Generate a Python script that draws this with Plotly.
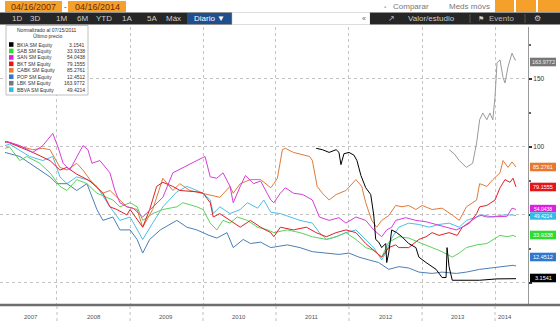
import plotly.graph_objects as go
import datetime as _dt

# ---------------- DATA ----------------
BKIA_dates = ["2011-07-21","2011-08-21","2011-09-24","2011-10-29","2011-11-12","2011-11-22","2011-12-07",
              "2012-01-01","2012-01-26","2012-02-10","2012-03-01","2012-03-25","2012-04-19","2012-05-04",
              "2012-05-14","2012-05-29","2012-06-13","2012-07-03","2012-07-08","2012-07-18","2012-08-02",
              "2012-08-27","2012-09-22","2012-10-26","2012-12-01","2012-12-16","2013-01-21","2013-03-12",
              "2013-04-11","2013-05-01","2013-05-06","2013-05-16","2013-06-01","2013-10-16","2014-01-11","2014-04-16"]
BKIA_values = [99,98,96,98,96,87,95,96,94,90,79,70,65,50,32,30,26,29,15,22,39,37,34,29,26,19,15,10,4,4,26,12,2,2,3,3.15]

SAB_dates = ["2007-04-16","2007-05-09","2007-06-29","2007-08-03","2007-10-07","2007-11-27","2008-01-16","2008-02-20",
             "2008-04-09","2008-05-30","2008-07-19","2008-09-07","2008-10-07","2008-11-11","2009-01-01","2009-02-05",
             "2009-03-05","2009-04-24","2009-06-14","2009-08-23","2009-09-22","2009-12-01","2010-01-01","2010-02-06",
             "2010-03-11","2010-04-11","2010-05-16","2010-06-21","2010-08-11","2010-10-01","2010-11-21","2010-12-21",
             "2011-02-27","2011-05-01","2011-07-02","2011-09-10","2011-10-29","2011-12-17","2012-02-05","2012-03-25",
             "2012-05-04","2012-06-13","2012-07-18","2012-09-07","2012-10-26","2013-01-01","2013-02-20","2013-04-11",
             "2013-06-01","2013-07-06","2013-08-11","2013-10-01","2013-11-21","2013-12-21","2014-01-26","2014-03-02",
             "2014-04-01","2014-04-16"]
SAB_values = [99,100,90,93,88,81,71,68,76,73,66,63,61,56,59,56,46,51,54,56,59,56,54,44,39,46,44,48.5,46,41,39,37,
              39,37,34,32,34,37,32,26,24,19,30,34,33,29,26,23,19,22,26,28,29,32,35,34,35,33.93]

SAN_dates = ["2007-04-16","2007-04-25","2007-06-29","2007-09-02","2007-10-22","2007-12-11","2008-01-06","2008-02-01",
             "2008-03-05","2008-04-09","2008-05-10","2008-06-04","2008-06-24","2008-08-03","2008-09-22","2008-10-17",
             "2008-11-11","2008-12-16","2009-01-16","2009-03-05","2009-06-14","2009-08-03","2009-09-22","2009-12-01",
             "2010-01-11","2010-02-06","2010-03-11","2010-04-11","2010-05-16","2010-06-01","2010-07-06","2010-08-01",
             "2010-09-11","2010-10-16","2010-11-21","2010-12-06","2010-12-21","2011-01-23","2011-02-17","2011-03-29",
             "2011-05-15","2011-07-02","2011-08-06","2011-09-24","2011-11-12","2011-12-17","2012-02-05","2012-03-25",
             "2012-05-04","2012-06-13","2012-07-08","2012-08-02","2012-08-22","2012-10-11","2012-12-01","2013-01-21",
             "2013-03-12","2013-05-01","2013-06-21","2013-07-21","2013-08-26","2013-10-16","2013-11-21","2014-01-11",
             "2014-03-02","2014-03-27","2014-04-16"]
SAN_values = [103,104,101,96,101,110,100,88,83,93,101,98,88,90,81,68,59,56,55,48.5,63,81,85,90,93,78,77,81,71,59,71,79,
              73,75,65,61,59,66,70,66,65,61,48.5,46,48,44,48.5,46,39,34,39,41,46,48,46,45,43,41,39,41,45,50,48.5,49,
              49,55,54.04]

BKT_dates = ["2007-04-16","2007-05-09","2007-09-02","2007-11-27","2008-01-16","2008-02-20","2008-04-09","2008-06-14",
             "2008-08-18","2008-09-22","2008-10-27","2008-12-16","2009-01-01","2009-03-05","2009-04-09","2009-05-14",
             "2009-06-14","2009-08-03","2009-09-07","2009-12-01","2010-01-01","2010-02-06","2010-02-21","2010-03-26",
             "2010-05-16","2010-07-06","2010-08-26","2010-10-16","2010-12-06","2010-12-21","2011-01-23","2011-03-29",
             "2011-06-02","2011-07-21","2011-09-10","2011-10-29","2011-12-17","2012-02-05","2012-03-25","2012-05-04",
             "2012-06-13","2012-07-18","2012-08-22","2012-09-07","2012-10-26","2012-12-16","2013-01-21","2013-02-20",
             "2013-03-27","2013-05-16","2013-06-26","2013-07-21","2013-08-26","2013-10-01","2013-10-16","2013-11-21",
             "2014-01-01","2014-01-26","2014-02-20","2014-03-17","2014-04-01","2014-04-16"]
BKT_values = [104,103,96,90,83,85,80,75,66,56,54,50,54,41,54,71,74,71,68,67,66,59,48.5,51,46,41,46,41,37,34,41,39,
              41,37,34,37,39,37,29,24,19,26,28,26,26,32,34,37,35,37,35,41,44,51,56,57,61,70,76,74,77,70.6]

CABK_dates = ["2007-04-16","2007-04-25","2007-07-13","2007-09-02","2007-10-22","2007-11-27","2008-01-16","2008-02-20",
              "2008-04-09","2008-05-10","2008-06-14","2008-07-19","2008-08-18","2008-09-22","2008-10-27","2008-12-16",
              "2009-02-05","2009-03-05","2009-04-24","2009-06-14","2009-08-03","2009-09-07","2009-10-27","2010-01-01",
              "2010-03-26","2010-05-16","2010-06-01","2010-07-06","2010-08-26","2010-10-16","2010-12-06","2010-12-21",
              "2011-01-08","2011-02-02","2011-02-17","2011-03-29","2011-05-15","2011-06-18","2011-07-02","2011-07-26",
              "2011-08-21","2011-09-24","2011-10-29","2011-12-17","2012-02-05","2012-03-05","2012-03-25","2012-04-24",
              "2012-05-19","2012-06-13","2012-07-18","2012-08-22","2012-09-22","2012-10-26","2012-12-01","2013-01-01",
              "2013-02-20","2013-04-11","2013-06-01","2013-07-06","2013-08-11","2013-10-01","2013-10-16","2013-11-21",
              "2013-12-21","2014-01-26","2014-02-10","2014-03-07","2014-03-27","2014-04-16"]
CABK_values = [103,104,100,98,99,98,85,83,88,83,76,71,66,68,63,56,54,41,54,77,68,73,68,66,63,71,66,73,76,76,70,73,
               77,98,99,96,94,93,90,71,66,61,65,68,76,71,59,46,41,46,49.5,57,56,57,54,57,54,55,50,46,56,61,73,71,
               76,81,90,85,89,85.28]

POP_dates = ["2007-04-16","2007-06-29","2007-08-18","2007-10-07","2007-11-27","2008-01-01","2008-02-20","2008-04-09",
             "2008-05-30","2008-07-19","2008-08-18","2008-10-07","2008-11-11","2009-01-01","2009-02-05","2009-03-05",
             "2009-04-09","2009-06-01","2009-08-23","2009-10-12","2009-12-01","2010-01-31","2010-03-11","2010-05-01",
             "2010-06-01","2010-07-21","2010-08-26","2010-10-16","2010-12-06","2011-02-27","2011-05-01","2011-07-02",
             "2011-09-10","2011-11-12","2012-01-01","2012-02-20","2012-04-09","2012-05-29","2012-07-18","2012-09-07",
             "2012-10-26","2012-12-16","2013-02-20","2013-04-11","2013-06-21","2013-08-11","2013-10-16","2013-12-21",
             "2014-02-10","2014-04-01","2014-04-16"]
POP_values = [96,93,88,83,78,73,73,68,73,54,46,48.5,39,39,32,22,32,39,46,41,39,35,33,37,26,32,29,30,26,28,26,23,
              22,21,22,19,17,15,10,12,11,8,7,8,7,8,10,11,12,13,12.45]

LBK_dates = ["2013-05-16","2013-06-11","2013-07-06","2013-08-11","2013-09-11","2013-10-01","2013-10-16","2013-11-01",
             "2013-11-21","2013-12-06","2013-12-21","2014-01-01","2014-01-11","2014-01-26","2014-02-10","2014-02-20",
             "2014-03-07","2014-03-27","2014-04-11","2014-04-16"]
LBK_values = [98,95,90,85,88,103,120,125,120,125,120,137,162,164,151,147,159,169,164,164]

BBVA_dates = ["2007-04-16","2007-05-09","2007-08-18","2007-10-22","2007-12-11","2008-01-16","2008-02-20","2008-04-09",
              "2008-05-30","2008-07-19","2008-09-22","2008-11-11","2009-01-01","2009-02-05","2009-03-05","2009-04-24",
              "2009-06-14","2009-08-23","2009-10-12","2009-12-01","2010-01-01","2010-02-06","2010-02-21","2010-03-26",
              "2010-05-16","2010-07-06","2010-08-11","2010-10-01","2010-11-01","2010-12-06","2011-01-23","2011-05-01",
              "2011-07-02","2011-08-06","2011-09-10","2011-10-29","2011-12-17","2012-02-05","2012-03-25","2012-05-04",
              "2012-06-13","2012-07-03","2012-08-02","2012-08-22","2012-09-07","2012-10-26","2012-12-16","2013-02-05",
              "2013-03-27","2013-05-16","2013-07-06","2013-08-11","2013-10-01","2013-11-01","2013-12-21","2014-02-10",
              "2014-04-01","2014-04-16"]
BBVA_values = [101,102,93,90,93,78,73,78,76,71,56,46,48.5,39,32,44,56,67,71,68,66,61,51,56,51,54,59,55,61,52,51,46,
               44,37,32,34,37,39,32,26,17,22,33,37,41,44,43,41,43,44,41,46,48.5,50,48.5,50,50,49.42]

names = ["BKIA SM Equity","SAB SM Equity","SAN SM Equity","BKT SM Equity","CABK SM Equity",
         "POP SM Equity","LBK SM Equity","BBVA SM Equity"]
last_prices = ["3.1541","33.9338","54.0438","79.1555","85.2761","12.4512","163.9772","49.4214"]
line_colors = ["#000000","#5ad35a","#d93bd9","#e0202a","#e07a3a","#4a7fb8","#9a9a9a","#4fbde6"]
box_colors  = ["#000000","#2edc2e","#e01ee0","#e3141c","#e8782e","#2f78cc","#777777","#33bbe8"]
series_dates = [BKIA_dates,SAB_dates,SAN_dates,BKT_dates,CABK_dates,POP_dates,LBK_dates,BBVA_dates]
series_values = [BKIA_values,SAB_values,SAN_values,BKT_values,CABK_values,POP_values,LBK_values,BBVA_values]

years = [2007,2008,2009,2010,2011,2012,2013,2014]
y_ticks = [0,50,100,150]
y_ticktext = ["","","100","150"]
date_from, date_to = "04/16/2007", "04/16/2014"
norm_text = "Normalizado al 07/15/2011"
period_buttons = ["1D","3D","1M","6M","YTD","1A","5A","Máx"]

# ---------------- LAYOUT HELPERS ----------------
W, H = 560, 334
ML, MR, MT, MB = 0, 32, 27, 29
PW, PH = W - ML - MR, H - MT - MB
def px(x): return (x - ML) / PW
def py(y): return (H - MB - y) / PH
FONT = "Liberation Sans, Arial, sans-serif"

fig = go.Figure()
draw_order = [7, 6, 5, 1, 4, 3, 2, 0]
for i in draw_order:
    fig.add_trace(go.Scatter(x=series_dates[i], y=series_values[i], mode="lines",
                             line=dict(color=line_colors[i], width=1.0), name=names[i],
                             hoverinfo="skip", showlegend=False))

shapes, annots = [], []

def rect(x0, y0, x1, y1, fill, line=None, lw=0):
    shapes.append(dict(type="rect", xref="paper", yref="paper", x0=px(x0), x1=px(x1), y0=py(y1), y1=py(y0),
                       fillcolor=fill, line=dict(color=line or fill, width=lw), layer="above"))

def text(x, y, s, size=7, color="#333", xa="center", ya="middle"):
    annots.append(dict(xref="paper", yref="paper", x=px(x), y=py(y), text=s,
                       showarrow=False, xanchor=xa, yanchor=ya, font=dict(size=size, color=color, family=FONT),
                       borderpad=0))

# --- toolbar row 1 ---
rect(0, 0, 560, 12.5, "#ffffff")
rect(5, 1, 62, 12, "#f6a02c")
rect(68, 1, 126, 12, "#f6a02c")
text(33.5, 6.7, date_from, size=9, color="#6b2a00")
text(65, 6.5, "-", size=8, color="#333")
text(97, 6.7, date_to, size=9, color="#6b2a00")
text(385, 6.5, "▪", size=6, color="#aaa")
text(411, 6.5, "Comparar", size=8, color="#777")
text(469, 6.5, "Meds móvs", size=8, color="#777")
rect(495, 0, 514, 12, "#f6a02c")
rect(516, 0, 536, 12, "#f6a02c")
rect(538, 0, 560, 12, "#f6a02c")
# --- toolbar row 2 ---
rect(0, 12.5, 232, 24.5, "#262626")
btn_x = [17, 35, 61, 82, 104, 127, 152, 173]
for bx, bt in zip(btn_x, period_buttons):
    text(bx, 18.7, bt, size=8, color="#cfcfcf")
rect(187, 13, 232, 24, "#1f4f8f")
text(209.5, 18.7, "Diario ▼", size=8, color="#ffffff")
rect(232, 12.5, 370, 24.5, "#ffffff", line="#bbb", lw=0.5)
text(364, 18.5, "«", size=7, color="#666")
rect(370, 12.5, 560, 24.5, "#262626")
text(391, 18.5, "↗", size=8, color="#bbb")
text(431, 18.7, "Valor/estudio", size=8, color="#cfcfcf")
shapes.append(dict(type="line", xref="paper", yref="paper", x0=px(470), x1=px(470), y0=py(14), y1=py(23),
                   line=dict(color="#555", width=1)))
text(481, 18.5, "⚑", size=7, color="#cfcfcf")
text(501, 18.7, "Evento", size=8, color="#bbbbbb")
shapes.append(dict(type="line", xref="paper", yref="paper", x0=px(525), x1=px(525), y0=py(14), y1=py(23),
                   line=dict(color="#555", width=1)))
text(537, 18.5, "⚙", size=8, color="#cfcfcf")

# --- legend box ---
rect(6, 25.5, 88, 95, "#ffffff", line="#b0b0b0", lw=0.8)
text(47, 29.5, norm_text, size=5, color="#333")
text(47, 36, "Último precio", size=5, color="#333")
for k in range(len(names)):
    yy = 44.5 + k * 6.45
    rect(9, yy - 2.3, 13.5, yy + 2.3, box_colors[k])
    text(16, yy, names[k], size=5, color="#333", xa="left")
    text(86, yy, last_prices[k], size=5, color="#333", xa="right")

# --- value tags on the right axis ---
tag_px = [278, 235, 208.5, 187, 167, 257, 62, 216]
tag_text_col = ["#fff", "#fff", "#fff", "#fff", "#fff", "#fff", "#eee", "#fff"]
for k in range(len(names)):
    h = 3.7 if k in (2, 7) else 4.3
    rect(530, tag_px[k] - h, 556, tag_px[k] + h, box_colors[k])
    text(543, tag_px[k] + 0.3, last_prices[k], size=5 if k in (2, 7) else 5.5, color=tag_text_col[k])

# --- x axis base line, year separators and labels ---
shapes.append(dict(type="line", xref="paper", yref="paper", x0=px(0), x1=px(560), y0=py(305), y1=py(305),
                   line=dict(color="#6e6e6e", width=2.5), layer="above"))
data_start, data_end = "2007-04-16", "2014-04-16"
def _d(s): return _dt.date.fromisoformat(s)
for yr in years:
    if yr > years[0]:
        shapes.append(dict(type="line", xref="x", yref="paper", x0="%d-01-01" % yr, x1="%d-01-01" % yr,
                           y0=py(306), y1=py(323), line=dict(color="#c0c0c0", width=1, dash="dot")))
    a = max(_d("%d-01-01" % yr), _d(data_start))
    b = min(_d("%d-01-01" % (yr + 1)), _d(data_end))
    mid = a + (b - a) / 2
    annots.append(dict(xref="x", yref="paper", x=mid.isoformat(), y=py(317), text=str(yr), showarrow=False,
                       font=dict(size=6, color="#555", family=FONT), xanchor="center", yanchor="middle"))

fig.update_layout(
    width=W, height=H, margin=dict(l=ML, r=MR, t=MT, b=MB),
    paper_bgcolor="#ffffff", plot_bgcolor="#ffffff",
    shapes=shapes, annotations=annots, showlegend=False,
    xaxis=dict(type="date", range=["2007-03-22", "2014-06-15"], tickvals=["%d-01-01" % y for y in years[1:]],
               showticklabels=False, showgrid=True, gridcolor="#c4c4c4", griddash="dot", gridwidth=1,
               zeroline=False, showline=False, ticks=""),
    yaxis=dict(side="right", range=[-16.2, 188.2], tickvals=y_ticks, ticktext=y_ticktext,
               showgrid=True, gridcolor="#c4c4c4", griddash="dot", gridwidth=1, zeroline=False,
               showline=True, linecolor="#9a9a9a", linewidth=1, ticks="outside", ticklen=3, tickwidth=2,
               tickcolor="#333", tickfont=dict(size=6.5, color="#333", family=FONT),
               minor=dict(dtick=25, ticks="outside", ticklen=2, tickcolor="#666", showgrid=False)),
)

fig.write_html("out.html")
